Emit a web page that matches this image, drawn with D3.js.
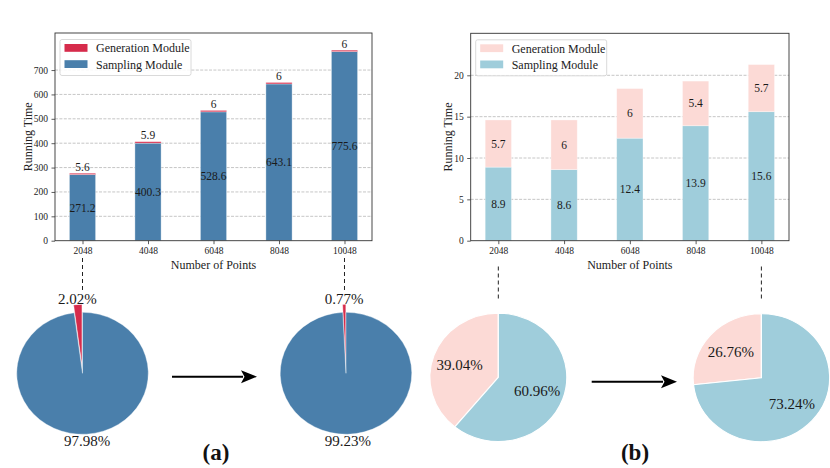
<!doctype html>
<html>
<head>
<meta charset="utf-8">
<script src="https://cdn.jsdelivr.net/npm/d3@7"></script>
<style type="text/css">
  body { margin: 0; background: #fff; }
  svg { display: block; }
</style>
</head>
<body>
<svg width="830" height="468"></svg>
<script type="text/javascript">

// data
var points = ["2048", "4048", "6048", "8048", "10048"];
var samplingA = [271.2, 400.3, 528.6, 643.1, 775.6];
var generationA = [5.6, 5.9, 6, 6, 6];
var samplingB = [8.9, 8.6, 12.4, 13.9, 15.6];
var generationB = [5.7, 6, 6, 5.4, 5.7];
var ticksA = [0, 100, 200, 300, 400, 500, 600, 700];
var ticksB = [0, 5, 10, 15, 20];
var seriesNames = ["Generation Module", "Sampling Module"];
// pie shares: [generation, sampling] for first and last point count
var pieA = [[2.02, 97.98], [0.77, 99.23]];
var pieB = [[39.04, 60.96], [26.76, 73.24]];

var colorsA = { gen: "#d62b4b", samp: "#4a7fab" };
var colorsB = { gen: "#fcdad6", samp: "#9fcddb" };

var serif = "Liberation Serif";
var svg = d3.select("svg").attr("font-family", serif);

function barPanel(opt) {
  var g = svg.append("g");
  var x = d3.scaleLinear().domain([-0.42, 4.42]).range([opt.left, opt.right]);
  var y = d3.scaleLinear().domain([0, opt.ymax]).range([opt.bottom, opt.top]);
  var bw = x(0.4) - x(0);

  // grid
  g.selectAll("line.grid")
    .data(opt.ticks.filter(function(d) { return d > 0; }))
    .enter().append("line")
    .attr("class", "grid")
    .attr("x1", opt.left).attr("x2", opt.right)
    .attr("y1", function(d) { return y(d); })
    .attr("y2", function(d) { return y(d); })
    .attr("stroke", "#b8b8b8")
    .attr("stroke-width", 0.8)
    .attr("stroke-dasharray", "3,1.4");

  // sampling bars
  g.selectAll("rect.samp")
    .data(opt.samp)
    .enter().append("rect")
    .attr("class", "samp")
    .attr("x", function(d, i) { return x(i) - bw / 2; })
    .attr("width", bw)
    .attr("y", function(d) { return y(d); })
    .attr("height", function(d) { return y(0) - y(d); })
    .attr("fill", opt.colors.samp)
    .attr("stroke", "#ffffff").attr("stroke-opacity", 0.5).attr("stroke-width", 0.7);

  // generation bars on top
  g.selectAll("rect.gen")
    .data(opt.gen)
    .enter().append("rect")
    .attr("class", "gen")
    .attr("x", function(d, i) { return x(i) - bw / 2; })
    .attr("width", bw)
    .attr("y", function(d, i) { return y(opt.samp[i] + d); })
    .attr("height", function(d, i) { return y(opt.samp[i]) - y(opt.samp[i] + d); })
    .attr("fill", opt.colors.gen)
    .attr("stroke", "#ffffff").attr("stroke-opacity", 0.5).attr("stroke-width", 0.7);

  // value labels
  g.selectAll("text.sampv")
    .data(opt.samp)
    .enter().append("text")
    .attr("class", "sampv")
    .attr("x", function(d, i) { return x(i); })
    .attr("y", function(d) { return y(d / 2); })
    .attr("dy", "0.35em")
    .attr("text-anchor", "middle")
    .attr("font-size", "11.5px")
    .attr("fill", "#1a1a1a")
    .text(function(d) { return d; });

  g.selectAll("text.genv")
    .data(opt.gen)
    .enter().append("text")
    .attr("class", "genv")
    .attr("x", function(d, i) { return x(i); })
    .attr("y", function(d, i) {
      return opt.genOnTop ? y(opt.samp[i] + d) - 2.5 : y(opt.samp[i] + d / 2);
    })
    .attr("dy", opt.genOnTop ? "0" : "0.35em")
    .attr("text-anchor", "middle")
    .attr("font-size", "11.5px")
    .attr("fill", "#1a1a1a")
    .text(function(d) { return d; });

  // axes
  var xAxis = d3.axisBottom(x)
    .tickValues(d3.range(points.length))
    .tickFormat(function(i) { return points[i]; })
    .tickSize(3.5).tickPadding(3.5);
  var yAxis = d3.axisLeft(y).tickValues(opt.ticks).tickSize(3.5).tickPadding(3.5);

  var xg = g.append("g").attr("transform", "translate(0," + opt.bottom + ")").call(xAxis);
  var yg = g.append("g").attr("transform", "translate(" + opt.left + ",0)").call(yAxis);
  [xg, yg].forEach(function(a) {
    a.attr("font-family", serif);
    a.select(".domain").remove();
    a.selectAll("text").attr("font-size", "9.5px").attr("fill", "#222");
    a.selectAll("line").attr("stroke", "#333").attr("stroke-width", 0.8);
  });

  // frame
  g.append("rect")
    .attr("x", opt.left).attr("y", opt.top)
    .attr("width", opt.right - opt.left).attr("height", opt.bottom - opt.top)
    .attr("fill", "none").attr("stroke", "#333").attr("stroke-width", 0.9);

  // axis titles
  g.append("text")
    .attr("transform", "translate(" + opt.ylabelX + "," + ((opt.top + opt.bottom) / 2) + ") rotate(-90)")
    .attr("text-anchor", "middle").attr("dy", "0.35em")
    .attr("font-size", "12px").attr("fill", "#222")
    .text("Running Time");
  g.append("text")
    .attr("x", (opt.left + opt.right) / 2).attr("y", opt.bottom + 24)
    .attr("dy", "0.35em")
    .attr("text-anchor", "middle")
    .attr("font-size", "12px").attr("fill", "#222")
    .text("Number of Points");

  // legend
  var lg = g.append("g").attr("transform", "translate(" + (opt.left + 5) + "," + (opt.top + 6.5) + ")");
  lg.append("rect")
    .attr("width", 131).attr("height", 36).attr("rx", 2)
    .attr("fill", "#fff").attr("fill-opacity", 0.85)
    .attr("stroke", "#d0d0d0").attr("stroke-width", 0.8);
  var legendColors = [opt.colors.gen, opt.colors.samp];
  lg.selectAll("rect.sw")
    .data(seriesNames)
    .enter().append("rect")
    .attr("class", "sw")
    .attr("x", 4.5).attr("y", function(d, i) { return 4.5 + i * 16.2; })
    .attr("width", 23).attr("height", 7.8)
    .attr("fill", function(d, i) { return legendColors[i]; });
  lg.selectAll("text.lt")
    .data(seriesNames)
    .enter().append("text")
    .attr("class", "lt")
    .attr("x", 36).attr("y", function(d, i) { return 8.7 + i * 16.2; })
    .attr("dy", "0.35em")
    .attr("font-size", "12px").attr("fill", "#222")
    .text(function(d) { return d; });

  // dashed connectors down to pies
  g.selectAll("line.conn")
    .data([0, points.length - 1])
    .enter().append("line")
    .attr("class", "conn")
    .attr("x1", function(d) { return x(d); }).attr("x2", function(d) { return x(d); })
    .attr("y1", opt.connY[0]).attr("y2", opt.connY[1])
    .attr("stroke", "#222").attr("stroke-width", 1)
    .attr("stroke-dasharray", "4,3");

  return x;
}

function pieChart(vals, opt) {
  var g = svg.append("g").attr("transform", "translate(" + opt.cx + "," + opt.cy + ")");
  var pie = d3.pie().sort(null).startAngle(0).endAngle(-2 * Math.PI);
  var arcs = pie(vals);
  var arc = d3.arc().innerRadius(0).outerRadius(opt.rx);
  var sy = opt.ry / opt.rx;
  var colors = [opt.colors.gen, opt.colors.samp];

  arcs.forEach(function(a, i) {
    var mid = (a.startAngle + a.endAngle) / 2;
    var ex = opt.explode[i];
    var dx = Math.sin(mid) * opt.rx * ex;
    var dy = -Math.cos(mid) * opt.ry * ex;
    g.append("path")
      .attr("transform", "translate(" + dx + "," + dy + ") scale(1," + sy + ")")
      .attr("d", arc(a))
      .attr("fill", colors[i])
      .attr("stroke", "#fff").attr("stroke-width", opt.edge);
    var d = opt.pct + ex;
    g.append("text")
      .attr("x", Math.sin(mid) * opt.rx * d)
      .attr("y", -Math.cos(mid) * opt.ry * d)
      .attr("dy", "0.35em")
      .attr("text-anchor", "middle")
      .attr("font-size", "15px").attr("fill", "#1a1a1a")
      .text(vals[i].toFixed(2) + "%");
  });
}

function arrow(x1, x2, yy) {
  svg.append("line")
    .attr("x1", x1).attr("x2", x2 - 14).attr("y1", yy).attr("y2", yy)
    .attr("stroke", "#000").attr("stroke-width", 2);
  svg.append("path")
    .attr("d", d3.line()([[x2 - 16, yy - 6.5], [x2, yy], [x2 - 16, yy + 6.5], [x2 - 12.5, yy]]) + "Z")
    .attr("fill", "#000");
}

// (a)
var xa = barPanel({
  left: 55, right: 372, top: 33, bottom: 240.7, ymax: 852,
  ticks: ticksA, samp: samplingA, gen: generationA, colors: colorsA,
  genOnTop: true, ylabelX: 28, connY: [258, 292]
});
pieChart(pieA[0], { cx: xa(0), cy: 373.3, rx: 65.8, ry: 61, explode: [0.13, 0], pct: 1.1, colors: colorsA, edge: 0.4 });
pieChart(pieA[1], { cx: xa(4) + 1.5, cy: 373.3, rx: 65.8, ry: 61, explode: [0.13, 0], pct: 1.1, colors: colorsA, edge: 0.4 });
arrow(172, 257, 376.7);

// (b)
var xb = barPanel({
  left: 470.7, right: 789, top: 33.3, bottom: 240.7, ymax: 25.08,
  ticks: ticksB, samp: samplingB, gen: generationB, colors: colorsB,
  genOnTop: false, ylabelX: 448, connY: [266.5, 299]
});
pieChart(pieB[0], { cx: xb(0), cy: 377.3, rx: 68.5, ry: 64.2, explode: [0, 0], pct: 0.6, colors: colorsB, edge: 1.2 });
pieChart(pieB[1], { cx: xb(4), cy: 377.7, rx: 68.3, ry: 64, explode: [0, 0], pct: 0.6, colors: colorsB, edge: 1.2 });
arrow(591.7, 677, 381.7);

// panel captions
svg.selectAll("text.cap")
  .data([["(a)", 216], ["(b)", 635]])
  .enter().append("text")
  .attr("class", "cap")
  .attr("x", function(d) { return d[1]; })
  .attr("y", 452)
  .attr("dy", "0.35em")
  .attr("text-anchor", "middle")
  .attr("font-size", "23px").attr("font-weight", "bold").attr("fill", "#111")
  .text(function(d) { return d[0]; });

</script>
</body>
</html>
